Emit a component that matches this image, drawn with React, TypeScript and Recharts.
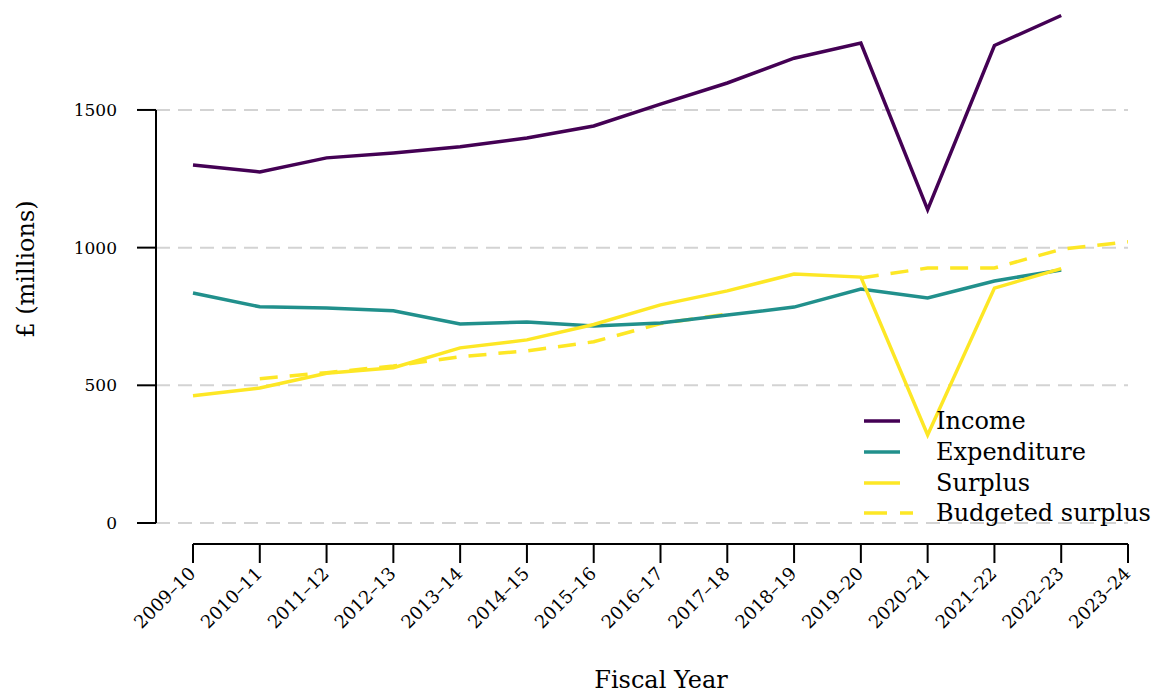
import React from 'react';
import { LineChart, Line, XAxis, YAxis, CartesianGrid, ReferenceLine } from 'recharts';

const fiscalYears = [
    '2009–10', '2010–11', '2011–12', '2012–13', '2013–14', '2014–15', '2015–16',
    '2016–17', '2017–18', '2018–19', '2019–20', '2020–21', '2021–22', '2022–23', '2023–24',
];

const income = [1300, 1275, 1326, 1344, 1366, 1398, 1442, 1521, 1598, 1688, 1743, 1138, 1734, 1843, null];
const expenditure = [835, 785, 781, 771, 723, 730, 715, 726, 755, 784, 850, 817, 879, 919, null];
const surplus = [462, 490, 544, 564, 636, 665, 721, 792, 843, 904, 893, 320, 853, 924, null];
const budgetedSurplus = [null, 524, 546, 570, 604, 625, 658, 724, 759, null, 890, 926, 926, 994, 1021];

const yTicks = [0, 500, 1000, 1500];

const FONT = '"DejaVu Serif", serif';

const series = [
    { key: 'income', name: 'Income', color: '#440154', dash: undefined },
    { key: 'expenditure', name: 'Expenditure', color: '#21908C', dash: undefined },
    { key: 'surplus', name: 'Surplus', color: '#FDE725', dash: undefined },
    { key: 'budgeted', name: 'Budgeted surplus', color: '#FDE725', dash: '18 12' },
];

const data = fiscalYears.map((year, i) => ({
    idx: i,
    year,
    income: income[i],
    expenditure: expenditure[i],
    surplus: surplus[i],
    budgeted: budgetedSurplus[i],
}));

// numeric x so the y axis can sit a bit left of the first year, like the R plot
const X_MIN = -0.554;
const X_MAX = fiscalYears.length - 1;
const Y_MIN = -76.3;
const Y_MAX = 1863;

const LINE_W = 3.5;

function YearTick(props: any) {
    const { x, y, payload } = props;
    const ty = y + 8;
    return (
        <text
            x={x}
            y={ty}
            transform={`rotate(-45, ${x}, ${ty})`}
            textAnchor="end"
            dominantBaseline="middle"
            fontFamily={FONT}
            fontSize={18}
            fill="#000"
        >
            {fiscalYears[payload.value]}
        </text>
    );
}

function ChartLegend() {
    return (
        <div style={{ position: 'absolute', left: 864, top: 406, fontFamily: FONT, fontSize: 24, color: '#000' }}>
            {series.map((s) => (
                <div key={s.key} style={{ display: 'flex', alignItems: 'center', height: 30.7 }}>
                    <svg width={50} height={10} style={{ marginRight: 22 }}>
                        <line x1={0} y1={5} x2={s.dash ? 49 : 36} y2={5} stroke={s.color} strokeWidth={LINE_W}
                            strokeDasharray={s.dash ? '23 13' : undefined} />
                    </svg>
                    <span style={{ marginLeft: 0 }}>{s.name}</span>
                </div>
            ))}
        </div>
    );
}

export default function App() {
    return (
        <div style={{ position: 'absolute', left: 0, top: 0, width: 1163, height: 696, background: '#fff' }}>
            <LineChart width={1163} height={696} data={data} margin={{ top: 10, right: 35, bottom: 0, left: 0 }}>
                <CartesianGrid
                    horizontal
                    vertical={false}
                    horizontalValues={yTicks}
                    stroke="#d3d3d3"
                    strokeWidth={2}
                    strokeDasharray="14 8"
                />
                <XAxis
                    dataKey="idx"
                    type="number"
                    domain={[X_MIN, X_MAX]}
                    allowDataOverflow
                    ticks={fiscalYears.map((_, i) => i)}
                    interval={0}
                    height={152}
                    axisLine={false}
                    tickLine={{ stroke: '#000', strokeWidth: 2 }}
                    tickSize={19}
                    tickMargin={0}
                    tick={<YearTick />}
                />
                <YAxis
                    type="number"
                    domain={[Y_MIN, Y_MAX]}
                    allowDataOverflow
                    ticks={yTicks}
                    width={156}
                    axisLine={false}
                    tickLine={{ stroke: '#000', strokeWidth: 2 }}
                    tickSize={19}
                    tickMargin={20}
                    tick={{ fill: '#000', fontFamily: FONT, fontSize: 17 }}
                />
                <ReferenceLine
                    segment={[{ x: X_MIN, y: 0 }, { x: X_MIN, y: 1500 }]}
                    stroke="#000"
                    strokeWidth={2}
                    ifOverflow="visible"
                />
                <ReferenceLine
                    segment={[{ x: 0, y: Y_MIN }, { x: X_MAX, y: Y_MIN }]}
                    stroke="#000"
                    strokeWidth={2}
                    ifOverflow="visible"
                />
                <Line dataKey="income" stroke="#440154" strokeWidth={LINE_W} dot={false} isAnimationActive={false} />
                <Line dataKey="budgeted" stroke="#FDE725" strokeWidth={LINE_W} strokeDasharray="18 12" dot={false} isAnimationActive={false} />
                <Line dataKey="expenditure" stroke="#21908C" strokeWidth={LINE_W} dot={false} isAnimationActive={false} />
                <Line dataKey="surplus" stroke="#FDE725" strokeWidth={LINE_W} dot={false} isAnimationActive={false} />
                <text x={27} y={269} transform="rotate(-90, 27, 269)" textAnchor="middle" dominantBaseline="middle"
                    fontFamily={FONT} fontSize={24} fill="#000">
                    £ (millions)
                </text>
                <text x={661} y={681} textAnchor="middle" dominantBaseline="middle" fontFamily={FONT} fontSize={24} fill="#000">
                    Fiscal Year
                </text>
            </LineChart>
            <ChartLegend />
        </div>
    );
}
